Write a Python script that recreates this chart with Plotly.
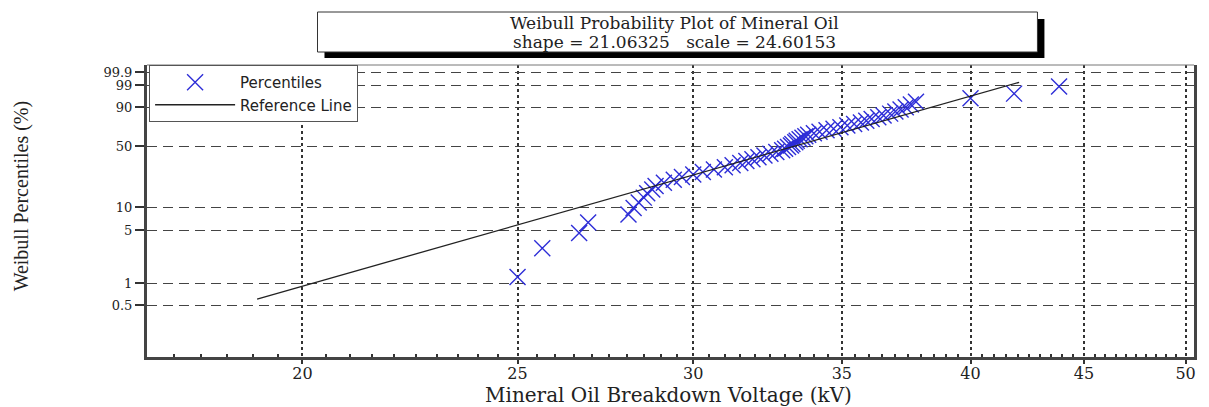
import numpy as np
import plotly.graph_objects as go

# ---------------- data ----------------
voltage_kv = [25.0, 25.65, 26.65, 26.9, 28.05,
              28.2, 28.35, 28.5, 28.6, 28.75,
              28.85, 29.1, 29.4, 29.65,
              30.0, 30.3, 30.65, 31.0,
              31.25, 31.5, 31.7, 31.9, 32.1, 32.3,
              32.5, 32.7, 32.9,
              33.0, 33.1, 33.2, 33.25, 33.35, 33.4, 33.5, 33.6, 33.7, 33.8, 34.0,
              34.2, 34.45, 34.7, 34.95, 35.2, 35.45, 35.7, 35.9, 36.1, 36.35,
              36.55, 36.8, 37.0, 37.2, 37.4, 37.6, 37.8,
              40.0, 41.85, 43.85]
percentile_pct = [1.20, 2.91, 4.62, 6.34, 8.05, 9.76, 11.47, 13.18, 14.90, 16.61,
                  18.32, 20.03, 21.75, 23.46, 25.17, 26.88, 28.60, 30.31, 32.02, 33.73,
                  35.45, 37.16, 38.87, 40.58, 42.29, 44.01, 45.72, 47.43, 49.14, 50.86,
                  52.57, 54.28, 55.99, 57.71, 59.42, 61.13, 62.84, 64.55, 66.27, 67.98,
                  69.69, 71.40, 73.12, 74.83, 76.54, 78.25, 79.97, 81.68, 83.39, 85.10,
                  86.82, 88.53, 90.24, 91.95, 93.66, 95.38, 97.09, 98.80]

ref_line_kv = [19.08, 42.07]
ref_line_pct = [0.61, 99.34]

y_tick_pct = [0.5, 1, 5, 10, 50, 90, 99, 99.9]
y_tick_text = ["0.5", "1", "5", "10", "50", "90", "99", "99.9"]
x_tick_vals = [20, 25, 30, 35, 40, 45, 50]

title_line1 = "Weibull Probability Plot of Mineral Oil"
title_line2 = "shape = 21.06325   scale = 24.60153"


# Weibull probability scale: y = ln(-ln(1-p))
def weib(pct):
    p = np.asarray(pct, dtype=float) / 100.0
    return np.log(-np.log(1.0 - p))


W, H = 1209, 407
ML, MR, MT, MB = 147, 12, 65, 50
PW, PH = W - ML - MR, H - MT - MB


def px2paper_x(px):
    return (px - ML) / PW


def px2paper_y(py):
    return (H - MB - py) / PH


fig = go.Figure()

fig.add_trace(go.Scatter(
    x=voltage_kv, y=weib(percentile_pct), mode="markers", name="Percentiles",
    marker=dict(symbol="x-thin-open", size=16,
                line=dict(color="rgb(45,45,215)", width=1.4),
                color="rgb(45,45,215)"),
))
fig.add_trace(go.Scatter(
    x=ref_line_kv, y=weib(ref_line_pct), mode="lines", name="Reference Line",
    line=dict(color="#222222", width=1.3),
))

minor_vals = [v for v in np.arange(17.5, 50.01, 0.5) if v not in x_tick_vals]

fig.update_xaxes(
    type="log", range=[np.log10(17.02), np.log10(50.44)],
    tickmode="array", tickvals=x_tick_vals, ticktext=[str(v) for v in x_tick_vals],
    ticks="outside", ticklen=4, tickwidth=2, tickcolor="#333",
    ticklabelstandoff=-4,
    showline=True, linewidth=3, linecolor="#444",
    showgrid=True, gridcolor="#333", griddash="dot", gridwidth=2,
    tickfont=dict(family="DejaVu Serif", size=16, color="#222"),
    minor=dict(tickmode="array", tickvals=minor_vals, ticks="inside",
               ticklen=3, tickwidth=2, tickcolor="#333", showgrid=False),
    zeroline=False,
)
fig.update_yaxes(
    range=[-6.891, 2.1495],
    tickmode="array", tickvals=list(weib(y_tick_pct)), ticktext=y_tick_text,
    ticks="outside", ticklen=9, tickwidth=1.5, tickcolor="#333",
    showline=True, linewidth=3, linecolor="#444", mirror=True,
    showgrid=True, gridcolor="#444", griddash="10px,6px", gridwidth=1.3,
    tickfont=dict(family="DejaVu Serif", size=13, color="#222"),
    zeroline=False,
)

# title box with shadow
shapes = [
    dict(type="rect", xref="paper", yref="paper",
         x0=px2paper_x(325), x1=px2paper_x(1047),
         y0=px2paper_y(58), y1=px2paper_y(19),
         fillcolor="black", line=dict(width=0)),
    dict(type="rect", xref="paper", yref="paper",
         x0=px2paper_x(318), x1=px2paper_x(1040),
         y0=px2paper_y(52), y1=px2paper_y(12),
         fillcolor="white", line=dict(color="#333", width=1)),
    dict(type="line", xref="paper", yref="paper",
         x0=0, x1=1, y0=1, y1=1, line=dict(color="#777", width=1)),
]

annotations = [
    dict(text=title_line1, xref="paper", yref="paper",
         x=px2paper_x(676), y=px2paper_y(23), showarrow=False,
         xanchor="center", yanchor="middle",
         font=dict(family="DejaVu Serif", size=17, color="#222")),
    dict(text=title_line2, xref="paper", yref="paper",
         x=px2paper_x(676), y=px2paper_y(42), showarrow=False,
         xanchor="center", yanchor="middle",
         font=dict(family="DejaVu Serif", size=17, color="#222")),
    dict(text="Mineral Oil Breakdown Voltage (kV)", xref="paper", yref="paper",
         x=px2paper_x(670), y=px2paper_y(395), showarrow=False,
         xanchor="center", yanchor="middle",
         font=dict(family="DejaVu Serif", size=20, color="#222")),
    dict(text="Weibull Percentiles (%)", xref="paper", yref="paper",
         x=px2paper_x(21), y=px2paper_y(196), showarrow=False, textangle=-90,
         xanchor="center", yanchor="middle",
         font=dict(family="Liberation Serif", size=20, color="#222")),
]

fig.update_layout(
    width=W, height=H,
    margin=dict(l=ML, r=MR, t=MT, b=MB),
    paper_bgcolor="white", plot_bgcolor="white",
    shapes=shapes, annotations=annotations,
    showlegend=True,
    legend=dict(x=0.002, y=1, xanchor="left", yanchor="top",
                bgcolor="white", bordercolor="#555", borderwidth=1,
                font=dict(family="DejaVu Sans", size=15, color="#222"),
                itemwidth=80, tracegroupgap=0),
)

fig.write_html("out.html")
